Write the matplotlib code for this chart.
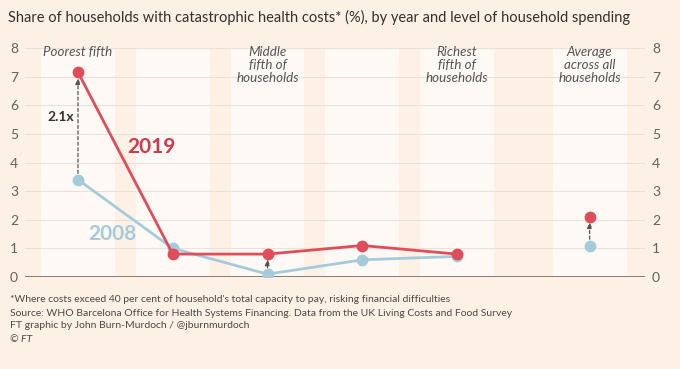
import numpy as np
import matplotlib
matplotlib.use("Agg")
import matplotlib.pyplot as plt

plt.rcParams['font.family'] = ['Lato', 'DejaVu Sans']

# data
groups = ["Poorest fifth", "", "Middle\nfifth of\nhouseholds", "",
          "Richest\nfifth of\nhouseholds", "Average\nacross all\nhouseholds"]
xpos = np.array([0, 1, 2, 3, 4, 5.4])
share_2019 = [7.15, 0.8, 0.8, 1.1, 0.8, 2.1]
share_2008 = [3.4, 1.0, 0.1, 0.6, 0.72, 1.1]

BG = "#FDF1E6"
RED = "#DE4E5A"
BLUE = "#A5CBDA"
GREY = "#66605C"

W, H = 680, 369
fig = plt.figure(figsize=(W / 100, H / 100), dpi=100, facecolor=BG)
ax = fig.add_axes([25 / W, (H - 277) / H, 620 / W, 229 / H])
ax.set_facecolor(BG)

x_lo = (25 - 78) / 94.75
x_hi = (645 - 78) / 94.75
ax.set_xlim(x_lo, x_hi)
ax.set_ylim(0, 8)

# column bands
for xc in xpos:
    ax.axvspan(xc - 0.39, xc + 0.39, color="white", alpha=0.6, lw=0, zorder=0)

for yv in range(1, 9):
    ax.axhline(yv, color="#EBE1D8", lw=0.8, zorder=1)
ax.axhline(0, color="#7A7470", lw=1.3, zorder=2)

# lines: first five are the quintiles, last is the average
ax.plot(xpos[:5], share_2008[:5], color=BLUE, lw=2, marker="o", ms=7.5, zorder=3)
ax.plot(xpos[5], share_2008[5], color=BLUE, marker="o", ms=7.5, zorder=3)
ax.plot(xpos[:5], share_2019[:5], color=RED, lw=2, marker="o", ms=7.5, zorder=4)
ax.plot(xpos[5], share_2019[5], color=RED, marker="o", ms=7.5, zorder=4)

# change arrows
arrow_kw = dict(arrowstyle="-|>,head_length=0.35,head_width=0.15", color="#555",
                lw=0.9, linestyle=(0, (2.5, 2)), shrinkA=0, shrinkB=0)
ax.annotate("", xy=(0, 6.95), xytext=(0, 3.62), arrowprops=arrow_kw, zorder=2)
ax.annotate("", xy=(2, 0.62), xytext=(2, 0.32), arrowprops=arrow_kw, zorder=2)
ax.annotate("", xy=(5.4, 1.92), xytext=(5.4, 1.32), arrowprops=arrow_kw, zorder=2)
ax.text(-0.04, 5.6, "2.1x", ha="right", va="center", fontsize=10,
        color="#333", fontweight="bold")

ax.text(0.78, 4.55, "2019", color="#CC3B4C", fontsize=15, fontweight="bold",
        ha="center", va="center")
ax.text(0.36, 1.5, "2008", color=BLUE, fontsize=15, fontweight="bold",
        ha="center", va="center")

for xc, lab in zip(xpos, groups):
    ax.text(xc, 8.07, lab, ha="center", va="top", fontsize=9.6, style="italic",
            color="#555", linespacing=1.12)

# axes
for s in ax.spines.values():
    s.set_visible(False)
ax.set_xticks([])
ax.set_yticks(range(0, 9))
ax.tick_params(axis="y", length=0, labelsize=10, labelcolor=GREY, pad=5,
               labelleft=True, labelright=True)

fig.text(8 / W, 1 - 17 / H, "Share of households with catastrophic health costs* (%), "
         "by year and level of household spending", fontsize=10.5, color="#33302E",
         va="center", family=["Liberation Sans Narrow", "Lato"])

notes = ["*Where costs exceed 40 per cent of household's total capacity to pay, risking financial difficulties",
         "Source: WHO Barcelona Office for Health Systems Financing. Data from the UK Living Costs and Food Survey",
         "FT graphic by John Burn-Murdoch / @jburnmurdoch"]
for i, line in enumerate(notes):
    fig.text(10 / W, 1 - (300 + 13 * i) / H, line, fontsize=7.5, color="#4D4845", va="center")
fig.text(10 / W, 1 - 339 / H, "© FT", fontsize=7.5, color="#4D4845", va="center",
         style="italic")

fig.savefig("out.png", dpi=100, facecolor=BG)
